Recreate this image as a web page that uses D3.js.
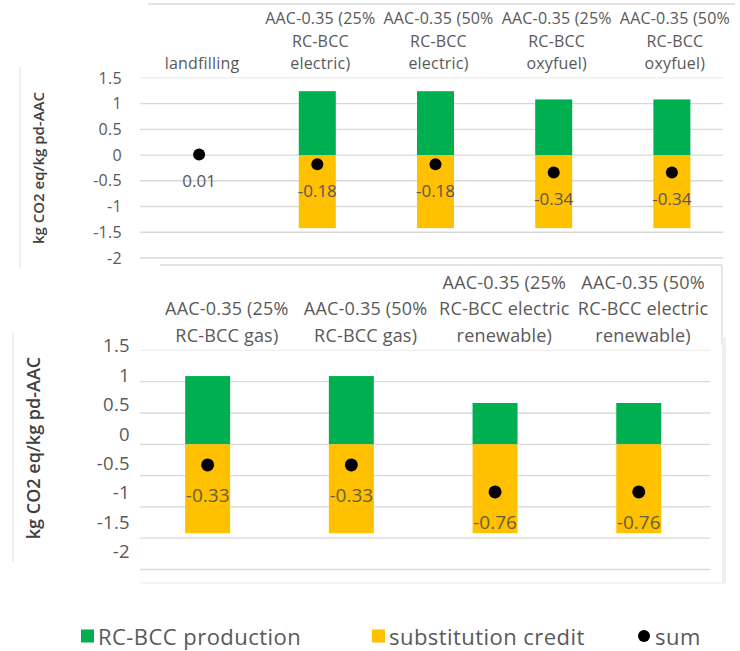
<!DOCTYPE html>
<html>
<head>
<meta charset="utf-8">
<script src="https://cdn.jsdelivr.net/npm/d3@7/dist/d3.min.js"></script>
<style>
  html, body { margin: 0; padding: 0; background: #fff; }
  svg { display: block; font-family: "Open Sans", "Noto Sans", sans-serif; }
</style>
</head>
<body>
<svg id="chart" width="740" height="651"></svg>
<script>
// ---- data -------------------------------------------------------------
const yTicks = [1.5, 1, 0.5, 0, -0.5, -1, -1.5, -2];
const yTickLabels = ["1.5", "1", "0.5", "0", "-0.5", "-1", "-1.5", "-2"];
const yTitle = "kg CO2 eq/kg pd-AAC";

const topCategories = [
  "landfilling",
  "AAC-0.35 (25% RC-BCC electric)",
  "AAC-0.35 (50% RC-BCC electric)",
  "AAC-0.35 (25% RC-BCC oxyfuel)",
  "AAC-0.35 (50% RC-BCC oxyfuel)"
];
const topLabelLines = [
  ["landfilling"],
  ["AAC-0.35 (25%", "RC-BCC", "electric)"],
  ["AAC-0.35 (50%", "RC-BCC", "electric)"],
  ["AAC-0.35 (25%", "RC-BCC", "oxyfuel)"],
  ["AAC-0.35 (50%", "RC-BCC", "oxyfuel)"]
];
const topProduction = [0, 1.24, 1.24, 1.08, 1.08];
const topCredit     = [0, -1.42, -1.42, -1.42, -1.42];
const topSum        = [0.01, -0.18, -0.18, -0.34, -0.34];

const bottomCategories = [
  "AAC-0.35 (25% RC-BCC gas)",
  "AAC-0.35 (50% RC-BCC gas)",
  "AAC-0.35 (25% RC-BCC electric renewable)",
  "AAC-0.35 (50% RC-BCC electric renewable)"
];
const bottomLabelLines = [
  ["AAC-0.35 (25%", "RC-BCC gas)"],
  ["AAC-0.35 (50%", "RC-BCC gas)"],
  ["AAC-0.35 (25%", "RC-BCC electric", "renewable)"],
  ["AAC-0.35 (50%", "RC-BCC electric", "renewable)"]
];
const bottomProduction = [1.09, 1.09, 0.66, 0.66];
const bottomCredit     = [-1.42, -1.42, -1.42, -1.42];
const bottomSum        = [-0.33, -0.33, -0.76, -0.76];

const legendItems = ["RC-BCC production", "substitution credit", "sum"];

// ---- style ------------------------------------------------------------
const GREEN = "#00B050", YELLOW = "#FFC000";
const TEXT = "#595959", GRID = "#d9d9d9", FRAME = "#d9d9d9";

const svg = d3.select("#chart");

function drawPanel(o) {
  const g = svg.append("g");
  const y = d3.scaleLinear().domain([-2, 1.5]).range(o.yRange);
  const yLab = d3.scaleLinear().domain([-2, 1.5]).range(o.yLabelRange);
  const x = d3.scaleBand().domain(o.categories).range(o.xRange)
    .paddingInner(0.687).paddingOuter(0.3435);
  // heading row sits in its own box, slightly offset from the plot
  const xHead = d3.scaleBand().domain(o.categories).range(o.headXRange);

  // horizontal gridlines
  g.append("g").selectAll("line").data(yTicks).join("line")
    .attr("x1", o.gridX[0]).attr("x2", o.gridX[1])
    .attr("y1", d => y(d)).attr("y2", d => y(d))
    .attr("stroke", d => d === 1.5 ? "#eeeeee" : GRID).attr("stroke-width", 1.3);

  // tick labels
  const axis = d3.axisLeft(yLab).tickValues(yTicks)
    .tickFormat((d, i) => yTickLabels[i]).tickSize(0).tickPadding(0);
  const ax = g.append("g").attr("transform", `translate(${o.tickX},0)`).call(axis);
  ax.select(".domain").remove();
  ax.selectAll("text").attr("fill", TEXT).style("font-size", o.tickSize + "px")
    .style("font-family", "'Open Sans', sans-serif").style("letter-spacing", "0.3px");

  // axis title
  g.append("text")
    .attr("transform", `translate(${o.titlePos[0]},${o.titlePos[1]}) rotate(-90)`)
    .attr("text-anchor", "middle").attr("dominant-baseline", "central")
    .attr("fill", "#404040").style("font-weight", 600)
    .style("font-size", o.titleSize + "px").text(yTitle);

  // stacked bars: production above zero, credit below
  g.append("g").selectAll("rect").data(o.categories).join("rect")
    .attr("x", d => x(d)).attr("width", x.bandwidth())
    .attr("y", (d, i) => y(o.production[i])).attr("height", (d, i) => y(0) - y(o.production[i]))
    .attr("fill", GREEN);
  g.append("g").selectAll("rect").data(o.categories).join("rect")
    .attr("x", d => x(d)).attr("width", x.bandwidth())
    .attr("y", y(0)).attr("height", (d, i) => y(o.credit[i]) - y(0))
    .attr("fill", YELLOW);

  // sum markers and labels
  const cx = d => x(d) + x.bandwidth() / 2;
  g.append("g").selectAll("circle").data(o.categories).join("circle")
    .attr("cx", cx).attr("cy", (d, i) => y(o.sum[i])).attr("r", o.dotR).attr("fill", "#000");
  g.append("g").selectAll("text").data(o.categories).join("text")
    .attr("x", cx).attr("y", (d, i) => y(o.sum[i]) + o.labelDy)
    .attr("text-anchor", "middle").attr("dominant-baseline", "central")
    .attr("fill", o.valueColor).style("font-size", o.valueSize + "px")
    .text((d, i) => o.sum[i].toFixed(2));

  // category headings, bottom-aligned
  const hx = d => xHead(d) + xHead.bandwidth() / 2;
  const heads = g.append("g").selectAll("text").data(o.categories).join("text")
    .attr("text-anchor", "middle").attr("fill", TEXT)
    .style("font-size", o.headSize + "px").style("letter-spacing", o.headSpacing + "px");
  heads.each(function(d, i) {
    const lines = o.labelLines[i];
    d3.select(this).selectAll("tspan").data(lines).join("tspan")
      .attr("x", hx(d))
      .attr("y", (t, j) => o.headBottom - (lines.length - 1 - j) * o.headLine)
      .attr("dominant-baseline", "central")
      .text(t => t);
  });
  return g;
}

// frames of the two panels
function line(x1, y1, x2, y2, c, w) {
  svg.append("line").attr("x1", x1).attr("y1", y1).attr("x2", x2).attr("y2", y2)
    .attr("stroke", c || FRAME).attr("stroke-width", w || 1.3);
}
line(148, 4, 735, 4);
line(20, 67, 20, 268, "#e6e6e6");
line(160, 265, 722, 265);
line(722, 265, 722, 345);
svg.append("rect").attr("x", 722).attr("y", 337).attr("width", 4).attr("height", 246).attr("fill", "#efefef");
line(13, 332, 13, 562, "#e6e6e6");
line(140, 583, 726, 583, "#f0f0f0");

drawPanel({
  categories: topCategories, labelLines: topLabelLines,
  production: topProduction, credit: topCredit, sum: topSum,
  yRange: [258, 77.8], yLabelRange: [258, 78],
  xRange: [140, 731], gridX: [140, 723], headXRange: [143, 734],
  tickX: 122, tickSize: 16,
  titlePos: [38, 168], titleSize: 15,
  dotR: 6, labelDy: 26, valueSize: 17, valueColor: TEXT,
  headSize: 16, headSpacing: 0.2, headBottom: 63, headLine: 22.5
});

drawPanel({
  categories: bottomCategories, labelLines: bottomLabelLines,
  production: bottomProduction, credit: bottomCredit, sum: bottomSum,
  yRange: [569.5, 350.4], yLabelRange: [551.7, 346],
  xRange: [135.8, 710.6], gridX: [140, 710], headXRange: [157.5, 712.5],
  tickX: 130, tickSize: 18.5,
  titlePos: [33, 448], titleSize: 18,
  dotR: 6.5, labelDy: 30, valueSize: 19, valueColor: "#66613a",
  headSize: 18, headSpacing: 0.2, headBottom: 335, headLine: 26.7
});

// legend
const legend = svg.append("g").attr("transform", "translate(0,636)");
const legendX = [81, 372, 638];
const legendShape = ["square", "square", "circle"];
const legendColor = [GREEN, YELLOW, "#000"];
legendItems.forEach((name, i) => {
  const gi = legend.append("g").attr("transform", `translate(${legendX[i]},0)`);
  if (legendShape[i] === "square") {
    gi.append("rect").attr("x", 0).attr("y", -6.5).attr("width", 13).attr("height", 13).attr("fill", legendColor[i]);
  } else {
    gi.append("circle").attr("cx", 6).attr("cy", 0).attr("r", 6).attr("fill", legendColor[i]);
  }
  gi.append("text").attr("x", 17).attr("y", 0).attr("dominant-baseline", "central")
    .attr("fill", TEXT).style("font-size", "22px").style("letter-spacing", "0.45px").text(name);
});
</script>
</body>
</html>
